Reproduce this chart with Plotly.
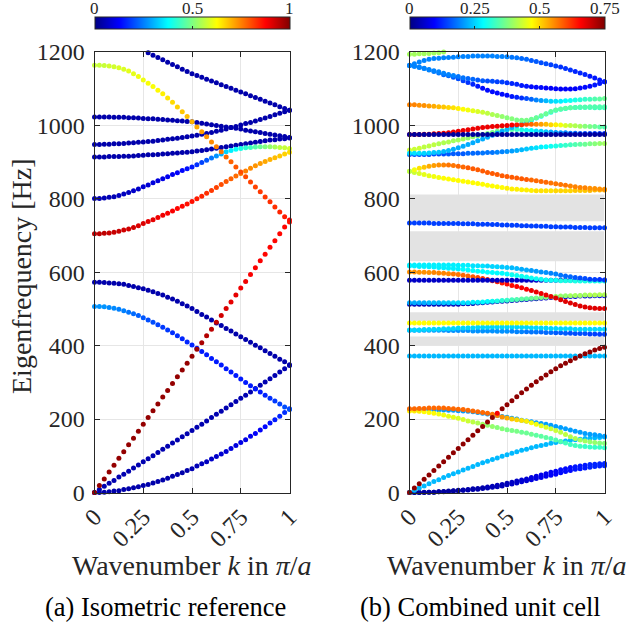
import plotly.graph_objects as go

# ---------------- data ----------------
K = [0, 0.025, 0.05, 0.075, 0.1, 0.125, 0.15, 0.175, 0.2, 0.225, 0.25, 0.275, 0.3, 0.325, 0.35,
     0.375, 0.4, 0.425, 0.45, 0.475, 0.5, 0.525, 0.55, 0.575, 0.6, 0.625, 0.65, 0.675, 0.7, 0.725,
     0.75, 0.775, 0.8, 0.825, 0.85, 0.875, 0.9, 0.925, 0.95, 0.975, 1]

N = None

# (a) Isometric reference: frequency [Hz] and colour value (0..1) per k
a1_f = [0,0,1,2,4,5,8,10,13,16,19,22,26,30,34,39,44,49,54,60,65,72,78,84,91,98,105,112,120,128,136,144,153,161,170,179,189,198,208,218,228]
a1_c = [0.04,0.04,0.04,0.04,0.04,0.04,0.04,0.04,0.04,0.04,0.04,0.04,0.04,0.04,0.04,0.04,0.04,0.04,0.04,0.04,
        0.05,0.05,0.06,0.06,0.07,0.07,0.08,0.08,0.09,0.09,0.1,0.1,0.11,0.12,0.12,0.13,0.14,0.15,0.16,0.17,0.18]
a2_f = [0,8,17,25,33,42,50,58,67,75,84,92,100,109,118,126,135,143,152,160,169,178,186,195,204,213,221,230,239,248,257,265,274,283,292,301,310,319,328,337,346]
a2_c = 0.045
a3_f = [0,19,37,56,74,93,111,130,148,167,186,204,223,241,260,278,297,315,334,352,371,390,408,427,445,464,482,501,519,538,557,575,594,612,631,649,668,686,705,723,742]
a3_c = [0.98,0.98,0.98,0.98,0.98,0.98,0.98,0.98,0.98,0.98,0.98,0.98,0.98,0.98,0.98,0.98,0.98,0.98,0.98,0.98,0.98,
        0.97,0.96,0.95,0.94,0.93,0.92,0.91,0.9,0.9,0.89,0.89,0.88,0.88,0.88,0.87,0.87,0.87,0.87,0.87,0.87]
a4_f = [507,507,506,504,502,499,495,491,487,482,476,470,464,457,450,443,435,427,419,410,402,393,384,375,365,356,347,337,328,319,309,300,291,282,274,265,257,249,241,233,226]
a4_c = [0.27,0.27,0.27,0.26,0.26,0.25,0.25,0.24,0.23,0.22,0.21,0.2,0.2,0.19,0.18,0.18,0.17,0.17,0.16,0.16,0.16,
        0.15,0.15,0.15,0.15,0.15,0.15,0.15,0.15,0.15,0.15,0.15,0.15,0.15,0.15,0.16,0.17,0.18,0.19,0.2,0.2]
a5_f = [573,573,572,571,570,569,567,564,561,558,555,551,547,542,538,532,527,521,514,508,501,493,485,478,470,462,455,447,440,432,424,417,409,401,394,386,379,371,363,356,348]
a5_c = 0.04
a6_f = [705,705,706,707,709,712,715,718,722,727,733,738,743,749,755,761,767,774,780,786,793,800,807,815,823,831,839,847,855,862,869,876,883,890,896,902,907,912,917,922,927]
a6_c = [0.94,0.94,0.94,0.93,0.93,0.93,0.92,0.92,0.92,0.91,0.91,0.9,0.9,0.89,0.89,0.88,0.88,0.87,0.87,0.86,0.86,
        0.85,0.84,0.83,0.82,0.81,0.8,0.79,0.78,0.77,0.76,0.75,0.74,0.73,0.72,0.71,0.7,0.69,0.68,0.67,0.66]
a7_f = [801,801,802,804,806,809,813,817,822,827,833,838,844,849,855,860,866,871,877,882,887,893,899,905,911,917,922,928,932,935,937,939,940,941,942,942,942,941,940,939,937]
a7_c = [0.05,0.05,0.05,0.05,0.05,0.06,0.06,0.06,0.07,0.07,0.08,0.08,0.09,0.09,0.1,0.11,0.11,0.12,0.13,0.14,0.15,
        0.17,0.19,0.21,0.24,0.27,0.3,0.33,0.36,0.38,0.4,0.42,0.44,0.46,0.48,0.5,0.52,0.54,0.56,0.57,0.58]
a8_f = [914,914,914,915,915,915,916,916,917,918,919,920,920,921,922,923,924,925,926,927,928,930,932,934,936,938,940,942,944,946,948,950,952,954,956,958,960,961,963,964,966]
a8_c = 0.04
a9_f = [1023,1023,1023,1023,1022,1022,1022,1021,1021,1020,1019,1018,1018,1017,1016,1015,1014,1013,1012,1011,1010,1008,1006,1004,1002,1000,998,996,994,992,990,987,985,983,981,978,976,974,972,970,967]
a9_c = 0.04
a10_f = [948,948,949,949,950,950,951,952,953,954,955,956,957,959,960,962,964,965,967,969,971,973,976,978,981,984,987,990,994,997,1001,1005,1008,1012,1016,1020,1024,1029,1033,1037,1041]
a10_c = 0.04
a11_f = [1164,1164,1163,1162,1160,1157,1153,1148,1141,1133,1124,1115,1106,1096,1086,1075,1063,1050,1037,1024,1010,996,983,969,955,942,928,914,901,887,873,860,846,832,819,805,792,778,764,751,737]
a11_c = [0.57,0.57,0.57,0.58,0.58,0.59,0.59,0.6,0.6,0.61,0.61,0.62,0.62,0.63,0.64,0.65,0.66,0.67,0.68,0.69,0.7,
         0.71,0.72,0.73,0.74,0.75,0.76,0.77,0.78,0.79,0.8,0.8,0.81,0.81,0.82,0.82,0.83,0.83,0.84,0.85,0.86]
a12_f = [N,N,N,N,N,N,N,N,N,N,N,1198,1191,1185,1179,1172,1166,1160,1153,1147,1141,1136,1131,1126,1121,1116,1111,1106,1101,1096,1091,1086,1081,1076,1071,1066,1061,1056,1051,1046,1041]
a12_c = 0.04

# (b) Combined unit cell: frequency [Hz] and colour value (0..0.75) per k
b1_f = [1194,1194,1195,1195,1196,1197,1198,1200,N,N,N,N,N,N,N,N,N,N,N,N,N,N,N,N,N,N,N,N,N,N,N,N,N,N,N,N,N,N,N,N,N]
b1_c = 0.4
b2_f = [1164,1168,1173,1177,1180,1182,1183,1184,1185,1186,1187,1188,1188,1189,1189,1189,1189,1189,1188,1188,1187,1186,1184,1182,1180,1177,1174,1171,1168,1165,1162,1159,1155,1151,1147,1143,1139,1134,1129,1124,1119]
b2_c = [0.19,0.19,0.19,0.19,0.19,0.19,0.19,0.19,0.19,0.19,0.19,0.19,0.19,0.19,0.19,0.19,0.19,0.19,0.19,0.19,0.19,
        0.18,0.18,0.17,0.17,0.16,0.16,0.15,0.15,0.14,0.14,0.13,0.13,0.13,0.12,0.12,0.12,0.11,0.11,0.11,0.11]
b3_f = [1163,1161,1159,1156,1152,1149,1146,1142,1139,1136,1133,1130,1128,1126,1124,1122,1121,1120,1119,1118,1116,1114,1112,1109,1107,1105,1104,1103,1102,1101,1100,1099,1099,1099,1100,1102,1104,1107,1110,1114,1119]
b3_c = [0.19,0.19,0.19,0.19,0.19,0.19,0.19,0.19,0.19,0.19,0.18,0.18,0.17,0.17,0.16,0.16,0.15,0.15,0.14,0.14,0.13,
        0.12,0.12,0.11,0.11,0.1,0.1,0.1,0.09,0.09,0.09,0.09,0.09,0.09,0.09,0.1,0.1,0.1,0.11,0.11,0.11]
b4_f = [1163,1161,1158,1155,1151,1147,1143,1138,1135,1131,1127,1122,1117,1112,1107,1101,1096,1092,1088,1085,1082,1079,1077,1075,1073,1071,1069,1068,1067,1066,1066,1066,1067,1068,1069,1070,1071,1071,1072,1072,1073]
b4_c = [0.19,0.19,0.19,0.19,0.19,0.18,0.18,0.17,0.17,0.16,0.15,0.14,0.13,0.12,0.11,0.1,0.1,0.1,0.1,0.1,0.1,
        0.11,0.12,0.13,0.15,0.17,0.19,0.21,0.23,0.25,0.26,0.27,0.28,0.29,0.3,0.31,0.32,0.33,0.34,0.35,0.36]
b5_f = [1056,1056,1055,1054,1053,1052,1051,1050,1049,1048,1046,1044,1042,1040,1038,1036,1033,1030,1027,1024,1021,1018,1015,1014,1014,1017,1021,1026,1032,1038,1042,1045,1047,1048,1049,1050,1050,1051,1051,1051,1051]
b5_c = [0.56,0.56,0.55,0.55,0.54,0.53,0.52,0.51,0.5,0.49,0.48,0.47,0.46,0.45,0.44,0.43,0.42,0.41,0.4,0.39,0.38,
        0.38,0.37,0.37,0.37,0.36,0.36,0.36,0.36,0.35,0.35,0.35,0.35,0.35,0.34,0.34,0.34,0.34,0.34,0.34,0.34]
b6_f = [924,924,924,924,925,926,927,929,932,935,939,943,948,953,958,963,968,973,979,984,989,994,999,1004,1009,1014,1020,1025,1031,1036,1041,1044,1046,1048,1049,1049,1049,1049,1048,1048,1048]
b6_c = [0.26,0.26,0.26,0.25,0.25,0.24,0.24,0.23,0.23,0.22,0.22,0.22,0.22,0.22,0.22,0.22,0.22,0.22,0.22,0.22,0.23,
        0.23,0.24,0.24,0.25,0.26,0.27,0.28,0.29,0.3,0.3,0.31,0.31,0.32,0.32,0.32,0.33,0.33,0.33,0.33,0.33]
b7_f = [975,975,975,975,975,975,975,975,975,975,975,975,975,975,975,975,975,975,975,975,975,975,975,975,975,975,975,975,975,975,975,975,975,975,975,975,975,975,975,975,975]
b7_c = 0.02
b8_f = [975,975,975,976,976,977,978,979,980,982,984,986,988,990,992,994,996,997,998,999,1000,1001,1002,1002,1003,1003,1003,1003,1003,1002,1002,1001,1000,1000,999,998,998,997,997,996,996]
b8_c = [0.67,0.67,0.67,0.67,0.67,0.67,0.67,0.67,0.67,0.67,0.67,0.67,0.67,0.67,0.67,0.67,0.67,0.67,0.67,0.67,0.67,
        0.66,0.64,0.62,0.6,0.58,0.56,0.54,0.52,0.5,0.48,0.46,0.44,0.42,0.41,0.4,0.38,0.37,0.36,0.35,0.34]
b9_f = [933,935,938,941,944,947,950,953,955,958,960,963,966,969,972,975,978,981,984,986,988,989,989,988,987,986,985,984,983,982,981,980,980,979,979,978,978,978,978,978,978]
b9_c = [0.43,0.43,0.43,0.42,0.42,0.42,0.41,0.41,0.41,0.4,0.4,0.4,0.39,0.39,0.38,0.38,0.37,0.37,0.36,0.36,0.35,
        0.34,0.32,0.3,0.29,0.28,0.26,0.25,0.24,0.22,0.21,0.2,0.19,0.18,0.17,0.16,0.15,0.15,0.14,0.14,0.13]
b10_f = [921,921,921,921,921,922,922,922,922,923,923,923,924,924,925,925,926,926,927,928,929,930,932,934,936,938,939,941,942,943,944,945,946,947,948,949,949,950,950,951,951]
b10_c = [0.15,0.15,0.15,0.15,0.15,0.15,0.15,0.15,0.16,0.16,0.16,0.16,0.17,0.17,0.17,0.18,0.18,0.18,0.19,0.19,0.2,
         0.21,0.22,0.23,0.24,0.25,0.26,0.27,0.28,0.29,0.3,0.31,0.32,0.33,0.34,0.35,0.36,0.37,0.38,0.39,0.4]
b11_f = [875,879,883,886,889,891,892,892,892,891,889,887,885,882,879,876,872,869,866,863,861,859,857,855,853,851,849,847,845,843,841,839,837,835,833,831,830,829,828,827,826]
b11_c = [0.42,0.46,0.49,0.51,0.53,0.54,0.55,0.56,0.57,0.57,0.58,0.58,0.59,0.59,0.59,0.59,0.59,0.59,0.59,0.59,0.59,
         0.59,0.59,0.59,0.59,0.58,0.58,0.58,0.58,0.57,0.57,0.57,0.57,0.56,0.56,0.56,0.56,0.55,0.55,0.55,0.55]
b12_f = [875,872,869,866,863,861,858,856,854,852,850,848,846,844,842,840,837,835,833,831,829,827,826,825,824,823,822,822,822,822,822,822,822,822,823,823,823,823,824,824,824]
b12_c = [0.42,0.43,0.44,0.45,0.45,0.46,0.46,0.47,0.47,0.47,0.47,0.47,0.47,0.47,0.47,0.47,0.47,0.47,0.47,0.47,0.48,
         0.48,0.48,0.48,0.48,0.48,0.49,0.49,0.49,0.49,0.5,0.5,0.5,0.5,0.51,0.51,0.51,0.52,0.52,0.52,0.53]
b13_f = [734,734,734,734,734,733,733,733,733,733,733,732,732,732,731,731,731,730,730,729,729,728,728,727,727,726,726,725,725,724,724,723,723,723,722,722,722,721,721,721,721]
b13_c = 0.14
b14_f = [620,620,620,620,620,620,620,620,620,620,619,619,619,618,618,617,617,616,615,614,613,612,610,608,606,605,603,601,599,597,595,592,590,588,586,584,583,581,580,580,579]
b14_c = [0.27,0.27,0.27,0.27,0.27,0.27,0.27,0.27,0.27,0.27,0.27,0.27,0.27,0.26,0.26,0.26,0.25,0.25,0.25,0.24,0.24,
         0.23,0.23,0.22,0.22,0.21,0.21,0.2,0.2,0.19,0.19,0.18,0.17,0.17,0.16,0.15,0.15,0.14,0.14,0.13,0.13]
b15_f = [617,617,616,616,615,614,613,612,611,610,609,608,606,605,603,602,600,599,598,597,595,593,591,589,587,584,582,581,579,578,578,577,577,577,576,576,576,576,576,576,576]
b15_c = [0.27,0.27,0.27,0.27,0.27,0.27,0.27,0.27,0.27,0.27,0.27,0.28,0.28,0.28,0.28,0.28,0.28,0.28,0.28,0.28,0.28,
         0.29,0.29,0.29,0.29,0.29,0.29,0.29,0.29,0.29,0.29,0.3,0.3,0.3,0.3,0.3,0.3,0.3,0.3,0.3,0.3]
b16_f = [601,601,600,600,599,599,598,597,596,595,594,592,590,588,586,583,580,577,574,571,568,564,561,558,554,550,546,542,538,534,530,525,520,516,512,508,505,503,502,501,501]
b16_c = [0.55,0.55,0.55,0.55,0.55,0.56,0.56,0.56,0.56,0.57,0.57,0.58,0.58,0.59,0.6,0.61,0.62,0.62,0.63,0.64,0.65,
         0.65,0.66,0.66,0.66,0.67,0.67,0.67,0.67,0.67,0.68,0.68,0.68,0.68,0.68,0.68,0.68,0.68,0.68,0.68,0.68]
b17_f = [578,578,578,578,578,578,578,578,578,578,578,578,578,578,578,578,578,578,578,578,578,578,578,578,578,578,578,578,578,578,578,578,578,578,578,578,578,578,578,578,578]
b17_c = 0.05
b18_f = [513,513,513,513,513,513,513,513,513,513,513,514,514,515,516,517,518,519,520,521,522,523,524,525,526,527,528,529,530,531,532,533,533,534,534,535,535,535,536,536,536]
b18_c = [0.04,0.04,0.04,0.04,0.04,0.04,0.04,0.04,0.04,0.04,0.04,0.04,0.04,0.04,0.04,0.04,0.04,0.04,0.04,0.04,0.04,
         0.04,0.04,0.05,0.05,0.05,0.05,0.05,0.06,0.06,0.06,0.06,0.06,0.07,0.07,0.07,0.07,0.07,0.08,0.08,0.08]
b19_f = [517,517,517,517,517,517,517,517,517,517,517,517,517,518,518,519,520,521,522,523,524,525,526,527,528,529,530,531,532,533,534,535,536,536,537,537,538,538,538,539,539]
b19_c = [0.22,0.22,0.22,0.22,0.23,0.23,0.23,0.24,0.24,0.25,0.25,0.26,0.26,0.27,0.27,0.28,0.28,0.29,0.3,0.31,0.32,
         0.33,0.34,0.35,0.35,0.36,0.37,0.37,0.38,0.38,0.39,0.39,0.39,0.4,0.4,0.4,0.4,0.41,0.41,0.41,0.41]
b20_f = [462,462,462,462,462,462,462,462,462,462,462,462,462,462,462,462,462,462,462,462,462,462,462,462,462,462,462,462,462,462,462,462,462,462,462,462,462,462,462,462,462]
b20_c = 0.47
b21_f = [443,443,443,444,444,445,445,446,446,447,448,448,449,449,450,450,450,451,451,451,451,451,451,450,450,449,449,448,448,447,447,446,446,446,445,445,445,445,445,445,445]
b21_c = 0.25
b22_f = [442,442,442,442,442,442,442,442,441,441,441,441,441,440,440,440,440,440,439,439,439,439,438,438,438,437,437,437,436,436,435,435,434,434,433,433,433,432,432,431,431]
b22_c = [0.2,0.2,0.2,0.2,0.2,0.2,0.2,0.2,0.2,0.2,0.2,0.2,0.2,0.2,0.2,0.2,0.2,0.2,0.2,0.2,0.2,
         0.19,0.19,0.19,0.18,0.18,0.18,0.17,0.17,0.17,0.16,0.16,0.16,0.15,0.15,0.15,0.15,0.14,0.14,0.14,0.14]
b23_f = [372,372,372,372,372,372,372,372,372,372,372,372,372,372,372,372,372,372,372,372,372,372,372,372,372,372,372,372,372,372,372,372,372,372,372,372,372,372,372,372,372]
b23_c = 0.23
b24_f = [0,12,24,36,48,60,72,84,96,108,120,132,144,156,168,180,192,204,216,228,239,250,261,272,282,292,302,311,320,329,337,345,352,359,366,372,378,383,388,392,396]
b24_c = [0.74,0.74,0.74,0.74,0.74,0.74,0.74,0.74,0.74,0.74,0.74,0.74,0.74,0.74,0.74,0.74,0.74,0.74,0.66,0.74,0.74,
         0.74,0.74,0.74,0.74,0.74,0.74,0.74,0.74,0.74,0.74,0.74,0.74,0.74,0.74,0.74,0.74,0.74,0.74,0.74,0.74]
b25_f = [226,226,226,226,226,225,225,225,224,224,223,222,221,220,218,216,214,212,210,207,205,202,200,197,195,193,190,188,186,183,180,177,174,170,167,164,161,159,157,155,153]
b25_c = 0.21
b26_f = [228,228,229,229,230,230,230,230,229,228,227,226,224,222,220,218,216,213,210,206,203,200,198,196,194,190,186,182,178,174,169,164,158,152,147,143,140,138,136,135,134]
b26_c = [0.58,0.58,0.58,0.58,0.58,0.58,0.58,0.58,0.58,0.58,0.58,0.58,0.58,0.58,0.58,0.58,0.58,0.57,0.56,0.55,0.53,
         0.51,0.5,0.49,0.48,0.47,0.46,0.45,0.44,0.43,0.43,0.42,0.42,0.41,0.41,0.4,0.4,0.39,0.39,0.38,0.38]
b27_f = [222,222,221,220,218,216,214,211,208,205,202,199,195,192,189,186,183,180,177,174,171,169,167,164,162,159,156,153,150,147,143,139,135,131,128,126,125,124,123,123,122]
b27_c = [0.48,0.48,0.48,0.47,0.47,0.47,0.46,0.46,0.45,0.45,0.44,0.44,0.43,0.42,0.41,0.4,0.39,0.39,0.38,0.38,0.37,
         0.37,0.37,0.36,0.36,0.36,0.35,0.35,0.35,0.34,0.34,0.34,0.33,0.33,0.33,0.33,0.32,0.32,0.32,0.32,0.32]
b28_f = [0,6,12,18,24,30,35,41,46,51,56,61,66,71,76,81,85,90,94,99,103,107,111,115,118,122,125,128,131,134,136,138,140,142,144,145,147,148,149,150,151]
b28_c = 0.23
b29_f = [0,0,0,1,1,1,2,3,4,5,6,7,8,10,11,13,15,17,20,22,25,28,31,34,37,41,44,48,51,55,58,62,65,68,70,72,74,76,77,78,79]
b30_f = [0,0,0,0,1,1,2,2,3,4,5,6,7,8,9,11,12,14,16,18,21,23,26,29,32,35,38,41,44,47,50,54,57,60,63,65,67,69,71,72,73]
b29_c = [0.02,0.02,0.02,0.02,0.02,0.02,0.02,0.02,0.02,0.02,0.02,0.03,0.03,0.03,0.03,0.03,0.04,0.04,0.04,0.04,0.04,
         0.05,0.05,0.06,0.06,0.07,0.07,0.08,0.08,0.09,0.09,0.1,0.1,0.1,0.11,0.11,0.11,0.12,0.12,0.12,0.12]
b30_c = b29_c

# band gaps of the combined unit cell [Hz]
GAPS_B = [[401, 425], [467, 491], [630, 712], [739, 812]]

YTICKS = [0, 200, 400, 600, 800, 1000, 1200]
XTICKS = [0, 0.25, 0.5, 0.75, 1]
XTICKTEXT = ["0", "0.25", "0.5", "0.75", "1"]
CB_A = [0, 0.5, 1]
CB_A_TXT = ["0", "0.5", "1"]
CB_B = [0, 0.25, 0.5, 0.75]
CB_B_TXT = ["0", "0.25", "0.5", "0.75"]

A_BANDS = [(a1_f, a1_c), (a2_f, a2_c), (a5_f, a5_c), (a4_f, a4_c), (a3_f, a3_c),
           (a8_f, a8_c), (a9_f, a9_c), (a10_f, a10_c), (a12_f, a12_c),
           (a7_f, a7_c), (a6_f, a6_c), (a11_f, a11_c)]
B_BANDS = [(b29_f, b29_c), (b30_f, b30_c), (b28_f, b28_c), (b25_f, b25_c), (b27_f, b27_c),
           (b26_f, b26_c), (b23_f, b23_c), (b22_f, b22_c), (b21_f, b21_c), (b20_f, b20_c),
           (b18_f, b18_c), (b19_f, b19_c), (b16_f, b16_c), (b17_f, b17_c), (b15_f, b15_c),
           (b14_f, b14_c), (b13_f, b13_c), (b12_f, b12_c), (b11_f, b11_c), (b10_f, b10_c),
           (b9_f, b9_c), (b6_f, b6_c), (b8_f, b8_c), (b7_f, b7_c), (b5_f, b5_c),
           (b4_f, b4_c), (b3_f, b3_c), (b2_f, b2_c), (b1_f, b1_c), (b24_f, b24_c)]

# ---------------- styling ----------------
W = H = 632
SERIF = "Liberation Serif"
INK = "#262626"
JET = [[0.0, "rgb(0,0,132)"], [0.125, "rgb(0,0,255)"], [0.375, "rgb(0,255,255)"],
       [0.625, "rgb(255,255,0)"], [0.875, "rgb(255,0,0)"], [1.0, "rgb(128,0,0)"]]

# plot boxes in pixels (left, right, top, bottom)
BOX_A = (94.5, 289.5, 52, 492.5)
BOX_B = (409.5, 604.5, 52, 492.5)


def px_x(p):
    return p / W


def px_y(p):
    return 1 - p / H


fig = go.Figure()


def add_bands(bands, xa, ya, cax):
    for f, c in bands:
        cc = c if isinstance(c, list) else [c for _ in f]
        fig.add_trace(go.Scatter(
            x=K, y=f, mode="markers", xaxis=xa, yaxis=ya, cliponaxis=False,
            marker=dict(size=5, color=cc, coloraxis=cax, line=dict(width=0)),
            showlegend=False, hoverinfo="skip"))


add_bands(A_BANDS, "x", "y", "coloraxis")
add_bands(B_BANDS, "x2", "y2", "coloraxis2")

shapes = []
for lo, hi in GAPS_B:
    shapes.append(dict(type="rect", xref="x2", yref="y2", x0=0, x1=1, y0=lo, y1=hi,
                       fillcolor="#e3e3e3", line=dict(width=0), layer="between"))

axis_common = dict(showline=True, linecolor=INK, linewidth=1, mirror="ticks",
                   ticks="inside", ticklen=5, tickcolor=INK, showgrid=True,
                   gridcolor="#e6e6e6", gridwidth=1, zeroline=False,
                   tickfont=dict(family=SERIF, size=24, color=INK))

xaxis_kw = dict(range=[0, 1], tickvals=XTICKS, ticktext=XTICKTEXT, tickangle=-45, **axis_common)
yaxis_kw = dict(range=[0, 1200], tickvals=YTICKS, ticklabelstandoff=4, **axis_common)


def cbar(box, vals):
    return dict(orientation="h", x=px_x((box[0] + box[1]) / 2), xanchor="center",
                y=px_y(33.3), yanchor="bottom", len=(box[1] - box[0]) / W, lenmode="fraction",
                thickness=11.5, thicknessmode="pixels", xpad=0, ypad=0,
                tickvals=vals, showticklabels=False, ticks="inside", ticklen=3,
                tickcolor=INK, outlinewidth=1, outlinecolor=INK)


annotations = []
for box, vals, txts, vmax in [(BOX_A, CB_A, CB_A_TXT, 1.0), (BOX_B, CB_B, CB_B_TXT, 0.75)]:
    for v, t in zip(vals, txts):
        annotations.append(dict(xref="paper", yref="paper",
                                x=px_x(box[0] + (box[1] - box[0]) * v / vmax), y=px_y(9),
                                text=t, showarrow=False, xanchor="center", yanchor="middle",
                                font=dict(family=SERIF, size=17, color=INK)))

annotations.append(dict(xref="paper", yref="paper", x=px_x(21), y=px_y(276),
                        text="Eigenfrequency [Hz]", textangle=-90, showarrow=False,
                        xanchor="center", yanchor="middle",
                        font=dict(family=SERIF, size=28, color=INK)))
for box in (BOX_A, BOX_B):
    annotations.append(dict(xref="paper", yref="paper", x=px_x((box[0] + box[1]) / 2), y=px_y(565),
                            text="Wavenumber <i>k</i> in <i>π</i>/<i>a</i>", showarrow=False,
                            xanchor="center", yanchor="middle",
                            font=dict(family=SERIF, size=28, color=INK)))
annotations.append(dict(xref="paper", yref="paper", x=px_x(165), y=px_y(607),
                        text="(a) Isometric reference", showarrow=False,
                        xanchor="center", yanchor="middle",
                        font=dict(family=SERIF, size=26.5, color="black")))
annotations.append(dict(xref="paper", yref="paper", x=px_x(480), y=px_y(607),
                        text="(b) Combined unit cell", showarrow=False,
                        xanchor="center", yanchor="middle",
                        font=dict(family=SERIF, size=26.5, color="black")))

fig.update_layout(
    width=W, height=H, margin=dict(l=0, r=0, t=0, b=0, autoexpand=False),
    paper_bgcolor="white", plot_bgcolor="white",
    xaxis=dict(domain=[px_x(BOX_A[0]), px_x(BOX_A[1])], anchor="y", **xaxis_kw),
    yaxis=dict(domain=[px_y(BOX_A[3]), px_y(BOX_A[2])], anchor="x", **yaxis_kw),
    xaxis2=dict(domain=[px_x(BOX_B[0]), px_x(BOX_B[1])], anchor="y2", **xaxis_kw),
    yaxis2=dict(domain=[px_y(BOX_B[3]), px_y(BOX_B[2])], anchor="x2", **yaxis_kw),
    coloraxis=dict(colorscale=JET, cmin=0, cmax=1, colorbar=cbar(BOX_A, CB_A)),
    coloraxis2=dict(colorscale=JET, cmin=0, cmax=0.75, colorbar=cbar(BOX_B, CB_B)),
    shapes=shapes, annotations=annotations,
)

fig.write_html("out.html", config={"displayModeBar": False},
               post_script="document.body.style.margin='0';document.body.style.padding='0';")
